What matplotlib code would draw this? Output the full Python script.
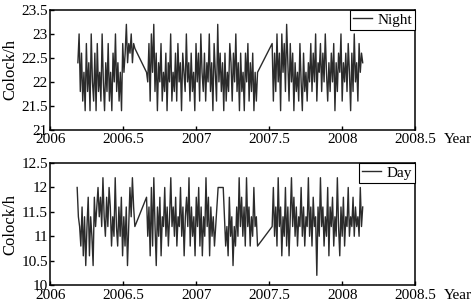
import numpy as np
import matplotlib
matplotlib.use('Agg')
from matplotlib import pyplot as plt
from matplotlib.ticker import FuncFormatter

plt.rcParams['font.family'] = 'Liberation Serif'
plt.rcParams['font.size'] = 11

# segments: (start year, end year)
night_spans = [(2006.19, 2006.58), (2006.66, 2007.42), (2007.52, 2008.14)]
night_1 = [22.4, 23.0, 21.8, 22.6, 21.6, 22.2, 21.4, 22.8, 21.8, 22.4,
           21.4, 23.0, 22.0, 21.6, 22.6, 21.4, 22.8, 21.8, 22.2, 21.6,
           23.0, 22.0, 21.4, 22.4, 21.8, 22.8, 21.6, 22.2, 21.4, 22.6,
           22.0, 23.0, 21.8, 22.4, 21.6, 22.2, 21.4, 22.8, 22.2, 22.6,
           23.2, 22.4, 22.8, 22.6, 23.0, 22.4, 22.8, 22.7]
night_2 = [22.2, 22.0, 22.8, 21.6, 23.0, 22.2, 23.2, 21.8, 22.6, 21.4,
           22.4, 22.0, 22.8, 21.6, 22.2, 21.8, 22.6, 21.4, 22.4, 22.0,
           23.0, 21.6, 22.2, 21.8, 22.6, 21.6, 22.8, 22.0, 22.4, 21.4,
           22.6, 22.2, 21.8, 23.0, 22.0, 22.4, 21.6, 22.6, 21.8, 22.2,
           21.4, 22.8, 22.0, 22.6, 21.6, 23.0, 22.2, 21.8, 22.6, 21.6,
           22.4, 22.0, 23.0, 21.8, 22.4, 21.4, 22.8, 22.2, 21.6, 23.2,
           22.0, 22.6, 21.8, 22.4, 21.4, 22.6, 21.6, 22.2, 21.8, 22.8,
           22.4, 21.6, 22.6, 22.0, 23.0, 21.8, 22.4, 21.4, 22.6, 21.8,
           22.2, 21.4, 22.6, 22.0, 22.8, 21.6, 22.4, 21.8, 22.6, 21.4,
           22.2, 21.6, 22.2]
night_3 = [22.8, 21.6, 22.6, 21.8, 23.0, 22.0, 22.6, 21.4, 23.0, 22.2,
           22.8, 21.8, 23.2, 22.4, 21.6, 22.8, 22.0, 22.6, 21.4, 22.4,
           21.8, 22.2, 21.6, 22.8, 22.0, 21.4, 22.6, 21.8, 22.2, 21.6,
           22.4, 22.0, 22.8, 21.8, 22.6, 22.0, 23.0, 21.6, 22.4, 22.2,
           22.8, 21.8, 22.6, 22.0, 23.0, 22.2, 21.6, 22.4, 21.8, 22.6,
           22.0, 22.8, 21.4, 22.4, 21.8, 22.6, 22.2, 23.0, 21.6, 22.4,
           22.0, 22.6, 21.8, 22.8, 22.2, 21.4, 22.6, 21.8, 23.0, 22.0,
           22.4, 21.6, 22.8, 22.2, 22.6, 22.4]

day_spans = [(2006.185, 2006.58), (2006.66, 2007.15), (2007.185, 2007.42), (2007.52, 2008.14)]
day_1 = [12.0, 11.4, 11.2, 10.8, 11.6, 10.6, 11.4, 10.4, 11.2, 11.8,
         10.6, 11.4, 11.0, 10.4, 11.8, 11.2, 11.6, 12.0, 11.4, 11.8,
         11.2, 12.2, 11.4, 11.0, 11.8, 11.2, 12.0, 11.6, 10.8, 11.4,
         11.0, 12.2, 11.2, 10.8, 11.6, 11.0, 11.8, 10.6, 11.4, 10.8,
         11.6, 10.4, 11.2, 12.0, 11.4, 12.2, 11.6, 11.2]
day_2 = [11.8, 11.0, 11.6, 10.6, 12.0, 10.8, 12.2, 11.2, 10.4, 11.6,
         11.0, 11.8, 10.6, 11.4, 11.2, 12.0, 11.0, 11.6, 10.8, 11.4,
         12.2, 11.2, 11.6, 11.0, 11.8, 10.8, 11.4, 11.2, 12.0, 11.0,
         11.6, 10.6, 11.4, 11.8, 11.2, 12.2, 10.8, 11.6, 11.0, 11.4,
         10.6, 11.8, 11.2, 12.0, 10.8, 11.6, 10.6, 11.4, 11.0, 12.2,
         11.2, 11.8, 10.6, 11.6, 11.0, 11.4, 10.8, 11.2, 11.6, 12.0]
day_3 = [12.0, 11.4, 10.8, 11.2, 10.6, 11.8, 11.0, 11.4, 10.4, 11.2,
         10.8, 11.6, 11.0, 12.2, 11.2, 11.8, 11.0, 11.6, 10.8, 12.2,
         11.2, 11.6, 10.8, 11.4, 11.0, 12.0, 11.2, 11.4, 10.8]
day_4 = [11.2, 12.0, 11.0, 11.6, 10.8, 12.2, 11.2, 11.6, 10.6, 11.4,
         11.0, 12.0, 10.8, 11.6, 10.6, 11.4, 12.2, 11.2, 11.8, 11.0,
         11.6, 10.8, 11.4, 11.2, 12.0, 11.0, 11.6, 10.8, 11.4, 11.2,
         12.2, 11.0, 11.6, 10.8, 11.8, 11.2, 11.4, 10.2, 11.6, 11.0,
         12.2, 11.2, 11.6, 10.8, 11.4, 11.0, 12.0, 10.6, 11.6, 11.2,
         11.8, 10.8, 11.4, 11.0, 12.2, 11.2, 10.6, 11.6, 11.0, 11.8,
         10.8, 11.4, 11.2, 12.0, 11.0, 11.4, 11.2, 11.8, 11.0, 11.6,
         11.2, 11.4, 11.0, 12.0, 11.2, 11.6]

xticks = [2006, 2006.5, 2007, 2007.5, 2008, 2008.5]


def join(spans, segs):
    xs, ys = [], []
    for (a, b), v in zip(spans, segs):
        xs.extend(np.linspace(a, b, len(v)))
        ys.extend(v)
    return np.array(xs), np.array(ys)


def panel(ax, x, y, label, ylim, yticks):
    ax.plot(x, y, color='#2b2b2b', lw=1.0, label=label)
    ax.set_xlim(2006, 2008.5)
    ax.set_ylim(*ylim)
    ax.set_xticks(xticks)
    ax.set_yticks(yticks)
    ax.yaxis.set_major_formatter(FuncFormatter(lambda v, p: '%g' % v))
    ax.xaxis.set_major_formatter(FuncFormatter(lambda v, p: '%g' % v))
    ax.tick_params(direction='in', length=3, width=1, labelsize=11)
    ax.tick_params(axis='x', pad=2.5)
    ax.tick_params(axis='y', pad=1.5)
    for s in ax.spines.values():
        s.set_linewidth(1.1)
    ax.set_ylabel('Colock/h', fontsize=12, labelpad=2)
    ax.text(1.077, -0.028, 'Year', transform=ax.transAxes, ha='left', va='top', fontsize=11)
    leg = ax.legend(loc='upper right', borderaxespad=0, fancybox=False, framealpha=1,
                    edgecolor='black', handlelength=1.2, handletextpad=0.4,
                    borderpad=0.2, fontsize=11)
    leg.get_frame().set_linewidth(0.8)


fig = plt.figure(figsize=(4.73, 3.02), dpi=100)
ax1 = fig.add_axes([0.106, 0.570, 0.772, 0.397])
ax2 = fig.add_axes([0.106, 0.056, 0.772, 0.404])

nx, ny = join(night_spans, [night_1, night_2, night_3])
dx, dy = join(day_spans, [day_1, day_2, day_3, day_4])

panel(ax1, nx, ny, 'Night', (21, 23.5), [21, 21.5, 22, 22.5, 23, 23.5])
panel(ax2, dx, dy, 'Day', (10, 12.5), [10, 10.5, 11, 11.5, 12, 12.5])

fig.savefig('out.png', dpi=100)
